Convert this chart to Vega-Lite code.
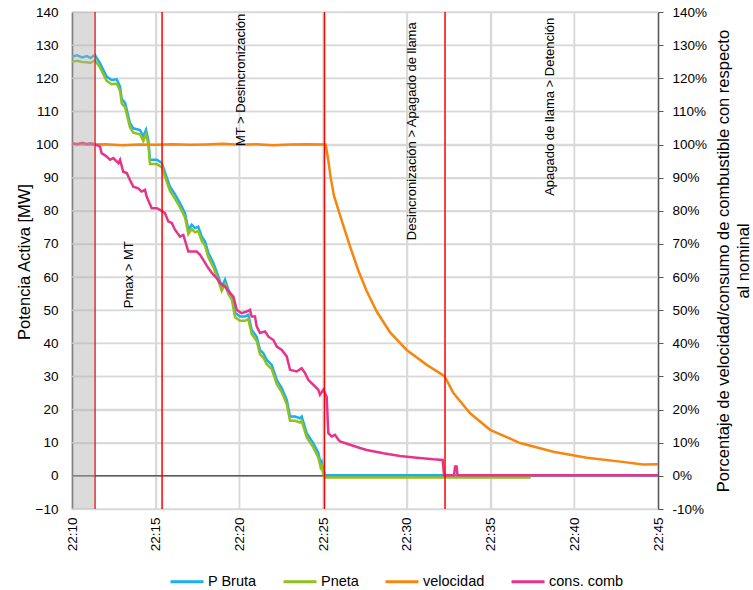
{
  "$schema": "https://vega.github.io/schema/vega-lite/v6.json",
  "width": 586,
  "height": 497,
  "autosize": {"type": "none"},
  "padding": {"left": 72, "top": 12, "right": 95, "bottom": 81},
  "background": "white",
  "config": {
    "view": {"stroke": null},
    "font": "Liberation Sans",
    "axis": {"labelFont": "Liberation Sans", "titleFont": "Liberation Sans", "labelColor": "#000000", "titleColor": "#000000", "titleFontWeight": "normal", "labelFontSize": 13.5, "titleFontSize": 16.5, "labelOverlap": false},
    "legend": {
      "orient": "none", "legendX": 97, "legendY": 551.5, "direction": "horizontal",
      "symbolType": "stroke", "symbolSize": 1089, "symbolStrokeWidth": 3,
      "labelFontSize": 14.5, "labelFont": "Liberation Sans", "labelColor": "#000000",
      "labelOffset": 3, "columnPadding": 20
    }
  },
  "datasets": {
    "series": [
      {"s":"P Bruta","t":0,"v":126.5},{"s":"P Bruta","t":0.3,"v":126.9},{"s":"P Bruta","t":0.6,"v":126.3},{"s":"P Bruta","t":0.9,"v":126.7},{"s":"P Bruta","t":1.1,"v":126.1},{"s":"P Bruta","t":1.37,"v":127.0},{"s":"P Bruta","t":1.67,"v":124.6},{"s":"P Bruta","t":2.07,"v":120.5},{"s":"P Bruta","t":2.37,"v":119.5},{"s":"P Bruta","t":2.67,"v":119.7},{"s":"P Bruta","t":2.87,"v":117.5},{"s":"P Bruta","t":2.97,"v":113.7},{"s":"P Bruta","t":3.17,"v":112.6},{"s":"P Bruta","t":3.46,"v":106.5},{"s":"P Bruta","t":3.66,"v":104.9},{"s":"P Bruta","t":4.06,"v":104.4},{"s":"P Bruta","t":4.26,"v":102.4},{"s":"P Bruta","t":4.42,"v":104.4},{"s":"P Bruta","t":4.56,"v":101.4},{"s":"P Bruta","t":4.66,"v":95.4},{"s":"P Bruta","t":5.06,"v":95.4},{"s":"P Bruta","t":5.36,"v":94.5},{"s":"P Bruta","t":5.66,"v":90.0},{"s":"P Bruta","t":5.85,"v":87.3},{"s":"P Bruta","t":6.15,"v":85.0},{"s":"P Bruta","t":6.45,"v":82.3},{"s":"P Bruta","t":6.75,"v":79.3},{"s":"P Bruta","t":6.95,"v":74.3},{"s":"P Bruta","t":7.15,"v":75.8},{"s":"P Bruta","t":7.35,"v":74.8},{"s":"P Bruta","t":7.54,"v":75.2},{"s":"P Bruta","t":7.75,"v":72.2},{"s":"P Bruta","t":7.95,"v":70.7},{"s":"P Bruta","t":8.14,"v":67.3},{"s":"P Bruta","t":8.44,"v":64.3},{"s":"P Bruta","t":8.74,"v":60.2},{"s":"P Bruta","t":8.94,"v":57.1},{"s":"P Bruta","t":9.14,"v":59.2},{"s":"P Bruta","t":9.34,"v":56.1},{"s":"P Bruta","t":9.54,"v":54.6},{"s":"P Bruta","t":9.74,"v":49.2},{"s":"P Bruta","t":10.04,"v":48.1},{"s":"P Bruta","t":10.33,"v":48.1},{"s":"P Bruta","t":10.53,"v":48.6},{"s":"P Bruta","t":10.73,"v":44.1},{"s":"P Bruta","t":11.03,"v":42.0},{"s":"P Bruta","t":11.23,"v":38.0},{"s":"P Bruta","t":11.43,"v":37.0},{"s":"P Bruta","t":11.63,"v":35.0},{"s":"P Bruta","t":11.93,"v":33.5},{"s":"P Bruta","t":12.23,"v":29.0},{"s":"P Bruta","t":12.53,"v":26.5},{"s":"P Bruta","t":12.83,"v":22.9},{"s":"P Bruta","t":13.02,"v":17.9},{"s":"P Bruta","t":13.32,"v":17.9},{"s":"P Bruta","t":13.62,"v":17.4},{"s":"P Bruta","t":13.72,"v":17.9},{"s":"P Bruta","t":14.02,"v":12.9},{"s":"P Bruta","t":14.41,"v":9.9},{"s":"P Bruta","t":14.71,"v":6.9},{"s":"P Bruta","t":14.85,"v":3.8},{"s":"P Bruta","t":14.91,"v":4.3},{"s":"P Bruta","t":15.01,"v":1.8},{"s":"P Bruta","t":15.11,"v":0.2},{"s":"P Bruta","t":20,"v":0.2},{"s":"P Bruta","t":25,"v":0.2},{"s":"P Bruta","t":30,"v":0.2},{"s":"P Bruta","t":35,"v":0.2},

      {"s":"Pneta","t":0,"v":125.0},{"s":"Pneta","t":0.3,"v":125.3},{"s":"Pneta","t":0.6,"v":124.9},{"s":"Pneta","t":0.9,"v":124.8},{"s":"Pneta","t":1.1,"v":124.6},{"s":"Pneta","t":1.37,"v":125.4},{"s":"Pneta","t":1.67,"v":123.3},{"s":"Pneta","t":2.07,"v":119.2},{"s":"Pneta","t":2.37,"v":118.2},{"s":"Pneta","t":2.67,"v":118.4},{"s":"Pneta","t":2.87,"v":116.2},{"s":"Pneta","t":2.97,"v":112.4},{"s":"Pneta","t":3.17,"v":111.3},{"s":"Pneta","t":3.46,"v":105.2},{"s":"Pneta","t":3.66,"v":103.6},{"s":"Pneta","t":4.06,"v":103.1},{"s":"Pneta","t":4.26,"v":101.1},{"s":"Pneta","t":4.42,"v":103.1},{"s":"Pneta","t":4.56,"v":100.1},{"s":"Pneta","t":4.66,"v":94.1},{"s":"Pneta","t":5.06,"v":94.1},{"s":"Pneta","t":5.36,"v":93.2},{"s":"Pneta","t":5.66,"v":88.7},{"s":"Pneta","t":5.85,"v":86.0},{"s":"Pneta","t":6.15,"v":83.7},{"s":"Pneta","t":6.45,"v":81.0},{"s":"Pneta","t":6.75,"v":78.0},{"s":"Pneta","t":6.95,"v":73.0},{"s":"Pneta","t":7.15,"v":74.5},{"s":"Pneta","t":7.35,"v":73.5},{"s":"Pneta","t":7.54,"v":73.9},{"s":"Pneta","t":7.75,"v":70.9},{"s":"Pneta","t":7.95,"v":69.4},{"s":"Pneta","t":8.14,"v":66.0},{"s":"Pneta","t":8.44,"v":63.0},{"s":"Pneta","t":8.74,"v":58.9},{"s":"Pneta","t":8.94,"v":55.8},{"s":"Pneta","t":9.14,"v":57.9},{"s":"Pneta","t":9.34,"v":54.8},{"s":"Pneta","t":9.54,"v":53.3},{"s":"Pneta","t":9.74,"v":47.9},{"s":"Pneta","t":10.04,"v":46.8},{"s":"Pneta","t":10.33,"v":46.8},{"s":"Pneta","t":10.53,"v":47.3},{"s":"Pneta","t":10.73,"v":42.8},{"s":"Pneta","t":11.03,"v":40.7},{"s":"Pneta","t":11.23,"v":36.7},{"s":"Pneta","t":11.43,"v":35.7},{"s":"Pneta","t":11.63,"v":33.7},{"s":"Pneta","t":11.93,"v":32.2},{"s":"Pneta","t":12.23,"v":27.7},{"s":"Pneta","t":12.53,"v":25.2},{"s":"Pneta","t":12.83,"v":21.6},{"s":"Pneta","t":13.02,"v":16.6},{"s":"Pneta","t":13.32,"v":16.6},{"s":"Pneta","t":13.62,"v":16.1},{"s":"Pneta","t":13.72,"v":16.6},{"s":"Pneta","t":14.02,"v":11.6},{"s":"Pneta","t":14.41,"v":8.6},{"s":"Pneta","t":14.71,"v":5.6},{"s":"Pneta","t":14.85,"v":2.5},{"s":"Pneta","t":14.91,"v":3.0},{"s":"Pneta","t":15.01,"v":0.5},{"s":"Pneta","t":15.11,"v":-0.5},{"s":"Pneta","t":20,"v":-0.5},{"s":"Pneta","t":27.4,"v":-0.5},

      {"s":"velocidad","t":0,"v":100.3},{"s":"velocidad","t":1,"v":99.9},{"s":"velocidad","t":2,"v":100.1},{"s":"velocidad","t":3,"v":99.8},{"s":"velocidad","t":4,"v":100.0},{"s":"velocidad","t":5,"v":99.9},{"s":"velocidad","t":6,"v":100.1},{"s":"velocidad","t":7,"v":99.9},{"s":"velocidad","t":8,"v":100.0},{"s":"velocidad","t":9,"v":100.2},{"s":"velocidad","t":10,"v":99.9},{"s":"velocidad","t":11,"v":100.1},{"s":"velocidad","t":12,"v":99.8},{"s":"velocidad","t":13,"v":100.0},{"s":"velocidad","t":14,"v":100.1},{"s":"velocidad","t":15.15,"v":100.0},{"s":"velocidad","t":15.3,"v":95.5},{"s":"velocidad","t":15.45,"v":90.0},{"s":"velocidad","t":15.65,"v":84.5},{"s":"velocidad","t":16.11,"v":77.0},{"s":"velocidad","t":16.61,"v":69.2},{"s":"velocidad","t":17.1,"v":62.0},{"s":"velocidad","t":17.6,"v":55.8},{"s":"velocidad","t":18.2,"v":49.6},{"s":"velocidad","t":19.0,"v":43.3},{"s":"velocidad","t":19.99,"v":38.0},{"s":"velocidad","t":21.19,"v":33.5},{"s":"velocidad","t":22.25,"v":30.1},{"s":"velocidad","t":22.78,"v":25.0},{"s":"velocidad","t":23.78,"v":18.9},{"s":"velocidad","t":24.97,"v":13.9},{"s":"velocidad","t":26.76,"v":9.9},{"s":"velocidad","t":28.75,"v":7.3},{"s":"velocidad","t":30.75,"v":5.5},{"s":"velocidad","t":32.74,"v":4.3},{"s":"velocidad","t":34.13,"v":3.4},{"s":"velocidad","t":35,"v":3.5},

      {"s":"cons. comb","t":0,"v":100.4},{"s":"cons. comb","t":0.3,"v":100.0},{"s":"cons. comb","t":0.6,"v":100.5},{"s":"cons. comb","t":0.9,"v":100.2},{"s":"cons. comb","t":1.1,"v":100.4},{"s":"cons. comb","t":1.37,"v":100.1},{"s":"cons. comb","t":1.67,"v":99.4},{"s":"cons. comb","t":1.77,"v":97.4},{"s":"cons. comb","t":2.07,"v":96.4},{"s":"cons. comb","t":2.27,"v":95.4},{"s":"cons. comb","t":2.47,"v":95.9},{"s":"cons. comb","t":2.77,"v":94.4},{"s":"cons. comb","t":2.87,"v":95.4},{"s":"cons. comb","t":3.06,"v":91.8},{"s":"cons. comb","t":3.27,"v":91.4},{"s":"cons. comb","t":3.46,"v":89.3},{"s":"cons. comb","t":3.66,"v":87.3},{"s":"cons. comb","t":3.96,"v":86.8},{"s":"cons. comb","t":4.16,"v":85.8},{"s":"cons. comb","t":4.36,"v":86.3},{"s":"cons. comb","t":4.46,"v":84.3},{"s":"cons. comb","t":4.76,"v":80.8},{"s":"cons. comb","t":5.06,"v":80.8},{"s":"cons. comb","t":5.26,"v":80.3},{"s":"cons. comb","t":5.55,"v":79.3},{"s":"cons. comb","t":5.75,"v":76.8},{"s":"cons. comb","t":5.96,"v":76.3},{"s":"cons. comb","t":6.15,"v":74.3},{"s":"cons. comb","t":6.45,"v":72.2},{"s":"cons. comb","t":6.65,"v":72.7},{"s":"cons. comb","t":6.95,"v":67.7},{"s":"cons. comb","t":7.25,"v":67.7},{"s":"cons. comb","t":7.45,"v":67.7},{"s":"cons. comb","t":7.65,"v":66.7},{"s":"cons. comb","t":7.84,"v":65.2},{"s":"cons. comb","t":8.14,"v":62.7},{"s":"cons. comb","t":8.44,"v":60.7},{"s":"cons. comb","t":8.64,"v":59.7},{"s":"cons. comb","t":8.84,"v":58.2},{"s":"cons. comb","t":9.14,"v":57.1},{"s":"cons. comb","t":9.44,"v":55.1},{"s":"cons. comb","t":9.64,"v":54.1},{"s":"cons. comb","t":9.84,"v":50.1},{"s":"cons. comb","t":10.13,"v":49.1},{"s":"cons. comb","t":10.43,"v":49.6},{"s":"cons. comb","t":10.63,"v":50.1},{"s":"cons. comb","t":10.73,"v":48.1},{"s":"cons. comb","t":10.93,"v":48.1},{"s":"cons. comb","t":11.03,"v":45.1},{"s":"cons. comb","t":11.23,"v":43.1},{"s":"cons. comb","t":11.53,"v":43.6},{"s":"cons. comb","t":11.73,"v":42.0},{"s":"cons. comb","t":12.03,"v":41.0},{"s":"cons. comb","t":12.23,"v":39.0},{"s":"cons. comb","t":12.53,"v":38.0},{"s":"cons. comb","t":12.83,"v":36.0},{"s":"cons. comb","t":13.02,"v":32.0},{"s":"cons. comb","t":13.42,"v":31.5},{"s":"cons. comb","t":13.72,"v":32.5},{"s":"cons. comb","t":13.92,"v":31.0},{"s":"cons. comb","t":14.11,"v":29.0},{"s":"cons. comb","t":14.41,"v":27.5},{"s":"cons. comb","t":14.71,"v":26.0},{"s":"cons. comb","t":14.81,"v":24.5},{"s":"cons. comb","t":15.01,"v":26.0},{"s":"cons. comb","t":15.11,"v":25.0},{"s":"cons. comb","t":15.21,"v":23.9},{"s":"cons. comb","t":15.31,"v":12.9},{"s":"cons. comb","t":15.51,"v":11.9},{"s":"cons. comb","t":15.71,"v":12.4},{"s":"cons. comb","t":15.91,"v":10.9},{"s":"cons. comb","t":16.01,"v":10.4},{"s":"cons. comb","t":16.61,"v":9.4},{"s":"cons. comb","t":17.2,"v":8.4},{"s":"cons. comb","t":17.6,"v":7.8},{"s":"cons. comb","t":18.6,"v":6.8},{"s":"cons. comb","t":19.59,"v":6.0},{"s":"cons. comb","t":20.59,"v":5.5},{"s":"cons. comb","t":21.58,"v":5.0},{"s":"cons. comb","t":22.14,"v":4.8},{"s":"cons. comb","t":22.22,"v":0.2},{"s":"cons. comb","t":22.82,"v":0.2},{"s":"cons. comb","t":22.88,"v":2.8},{"s":"cons. comb","t":22.97,"v":2.8},{"s":"cons. comb","t":23.03,"v":0.2},{"s":"cons. comb","t":35,"v":0.2}
    ],
    "gridrows": [{"level":-10},{"level":0},{"level":10},{"level":20},{"level":30},{"level":40},{"level":50},{"level":60},{"level":70},{"level":80},{"level":90},{"level":100},{"level":110},{"level":120},{"level":130},{"level":140}],
    "gridcols": [{"minute":5},{"minute":10},{"minute":15},{"minute":20},{"minute":25},{"minute":30}],
    "events": [{"t": 1.37}, {"t": 5.38}, {"t": 15.08}, {"t": 22.28}],
    "band": [{"a": 0, "b": 1.37}],
    "zero": [{"z": 0}],
    "notes": [
      {"t": 3.4, "v": 60.7, "label": "Pmax > MT"},
      {"t": 10.1, "v": 119.5, "label": "MT > Desincronización"},
      {"t": 20.3, "v": 104.0, "label": "Desincronización > Apagado de llama"},
      {"t": 28.55, "v": 111.4, "label": "Apagado de llama > Detención"}
    ],
    "pct": [{"p": -10}, {"p": 140}]
  },
  "layer": [
    {
      "data": {"name": "gridrows"},
      "mark": {"type": "rule", "color": "#d9d9d9", "strokeWidth": 1.5},
      "encoding": {
        "y": {"field": "level", "type": "quantitative", "scale": {"domain": [-10, 140], "nice": false, "zero": false},
          "axis": {"orient": "left", "values": [-10, 0, 10, 20, 30, 40, 50, 60, 70, 80, 90, 100, 110, 120, 130, 140], "title": "Potencia Activa [MW]", "grid": true, "gridColor": "#d9d9d9", "gridWidth": 1.5, "domain": true, "domainColor": "#595959", "domainWidth": 1.5, "ticks": false, "tickSize": 0, "labelPadding": 14, "labelOverlap": false, "titleAngle": 270, "titleX": -48, "titleY": 249.5, "titleAlign": "center", "titleBaseline": "middle"}}
      }
    },
    {
      "data": {"name": "gridcols"},
      "mark": {"type": "rule", "color": "#d9d9d9", "strokeWidth": 1.5},
      "encoding": {
        "x": {"field": "minute", "type": "quantitative", "scale": {"domain": [0, 35], "nice": false, "zero": false},
          "axis": {"orient": "bottom", "values": [0, 5, 10, 15, 20, 25, 30, 35], "labelExpr": "'22:' + (datum.value + 10)", "labelAngle": 270, "grid": true, "gridColor": "#d9d9d9", "gridWidth": 1.5, "domain": false, "ticks": false, "tickSize": 0, "labelPadding": 8, "labelOverlap": false, "title": null}}
      }
    },
    {
      "data": {"name": "zero"},
      "mark": {"type": "rule", "color": "#595959", "strokeWidth": 1.5},
      "encoding": {"y": {"field": "z", "type": "quantitative", "axis": null}}
    },
    {
      "data": {"name": "series"},
      "transform": [{"filter": "datum.s === 'P Bruta'"}],
      "mark": {"type": "line", "strokeWidth": 2.5},
      "encoding": {
        "x": {"field": "t", "type": "quantitative", "axis": null},
        "y": {"field": "v", "type": "quantitative", "axis": null},
        "color": {"field": "s", "type": "nominal", "title": null,
          "scale": {"domain": ["P Bruta", "Pneta", "velocidad", "cons. comb"], "range": ["#1AAFEF", "#93C01F", "#F5870E", "#E8338A"]}},
        "order": {"field": "t", "type": "quantitative"}
      }
    },
    {
      "data": {"name": "series"},
      "transform": [{"filter": "datum.s === 'Pneta'"}],
      "mark": {"type": "line", "strokeWidth": 2.5},
      "encoding": {
        "x": {"field": "t", "type": "quantitative", "axis": null},
        "y": {"field": "v", "type": "quantitative", "axis": null},
        "color": {"field": "s", "type": "nominal", "title": null},
        "order": {"field": "t", "type": "quantitative"}
      }
    },
    {
      "data": {"name": "series"},
      "transform": [{"filter": "datum.s === 'velocidad'"}],
      "mark": {"type": "line", "strokeWidth": 2.5},
      "encoding": {
        "x": {"field": "t", "type": "quantitative", "axis": null},
        "y": {"field": "v", "type": "quantitative", "axis": null},
        "color": {"field": "s", "type": "nominal", "title": null},
        "order": {"field": "t", "type": "quantitative"}
      }
    },
    {
      "data": {"name": "series"},
      "transform": [{"filter": "datum.s === 'cons. comb'"}],
      "mark": {"type": "line", "strokeWidth": 2.5},
      "encoding": {
        "x": {"field": "t", "type": "quantitative", "axis": null},
        "y": {"field": "v", "type": "quantitative", "axis": null},
        "color": {"field": "s", "type": "nominal", "title": null},
        "order": {"field": "t", "type": "quantitative"}
      }
    },
    {
      "data": {"name": "events"},
      "mark": {"type": "rule", "color": "#FF0000", "strokeWidth": 1.5},
      "encoding": {"x": {"field": "t", "type": "quantitative", "axis": null}}
    },
    {
      "data": {"name": "band"},
      "mark": {"type": "rect", "fill": "#b0b0b0", "opacity": 0.45},
      "encoding": {
        "x": {"field": "a", "type": "quantitative", "axis": null},
        "x2": {"field": "b"}
      }
    },
    {
      "data": {"name": "notes"},
      "mark": {"type": "text", "angle": 270, "align": "center", "baseline": "middle", "fontSize": 13, "font": "Liberation Sans", "color": "#000000"},
      "encoding": {
        "x": {"field": "t", "type": "quantitative", "axis": null},
        "y": {"field": "v", "type": "quantitative", "axis": null},
        "text": {"field": "label"}
      }
    },
    {
      "data": {"name": "pct"},
      "mark": {"type": "rule", "opacity": 0},
      "encoding": {
        "y": {"field": "p", "type": "quantitative",
          "axis": {"orient": "right", "values": [-10, 0, 10, 20, 30, 40, 50, 60, 70, 80, 90, 100, 110, 120, 130, 140], "labelExpr": "datum.value + '%'", "grid": false, "domain": true, "domainColor": "#595959", "domainWidth": 1.5, "ticks": true, "tickColor": "#595959", "tickSize": 5, "labelPadding": 9, "labelOverlap": false,
            "title": ["Porcentaje de velocidad/consumo de combustible con respecto", "al nominal"], "titleAngle": 270, "titleX": 57, "titleY": 248.5, "titleAlign": "center", "titleBaseline": "top", "titleLineHeight": 20}}
      }
    }
  ],
  "resolve": {"axis": {"y": "independent", "x": "independent"}}
}
